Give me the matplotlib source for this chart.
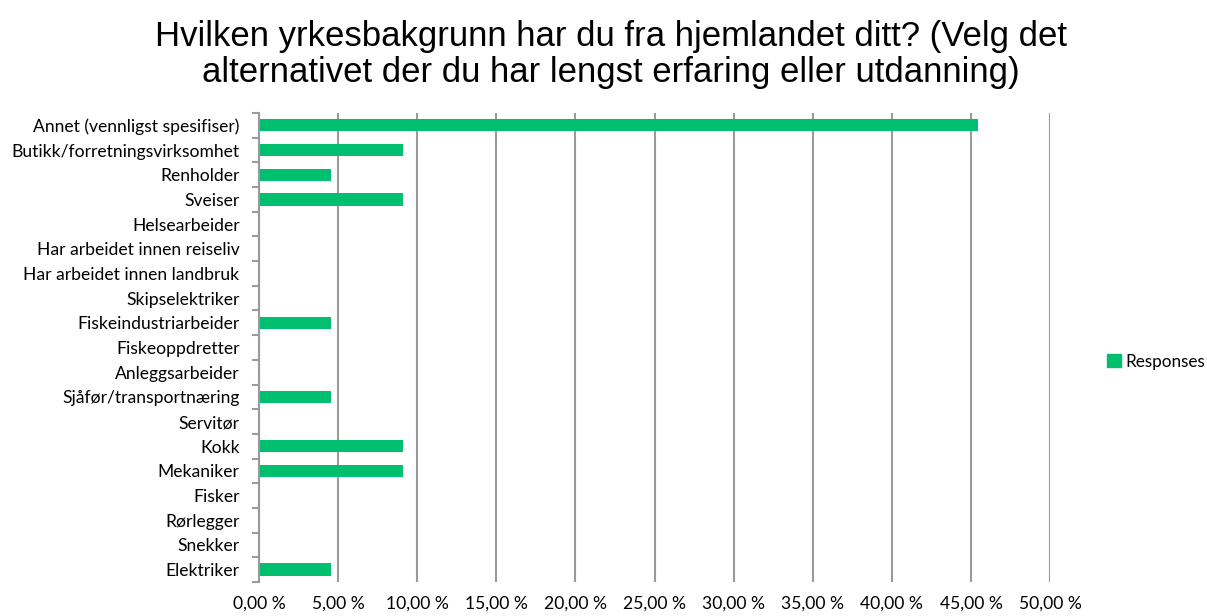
import matplotlib

matplotlib.use("Agg")
import matplotlib.pyplot as plt  # noqa: E402
from matplotlib.patches import Patch  # noqa: E402
from matplotlib.ticker import FuncFormatter, FixedLocator, NullFormatter  # noqa: E402

TITLE = ("Hvilken yrkesbakgrunn har du fra hjemlandet ditt? (Velg det\n"
         "alternativet der du har lengst erfaring eller utdanning)")

categories = [
    "Annet (vennligst spesifiser)",
    "Butikk/forretningsvirksomhet",
    "Renholder",
    "Sveiser",
    "Helsearbeider",
    "Har arbeidet innen reiseliv",
    "Har arbeidet innen landbruk",
    "Skipselektriker",
    "Fiskeindustriarbeider",
    "Fiskeoppdretter",
    "Anleggsarbeider",
    "Sjåfør/transportnæring",
    "Servitør",
    "Kokk",
    "Mekaniker",
    "Fisker",
    "Rørlegger",
    "Snekker",
    "Elektriker",
]
responses = [45.45, 9.09, 4.55, 9.09, 0, 0, 0, 0, 4.55, 0, 0, 4.55, 0, 9.09, 9.09,
             0, 0, 0, 4.55]

GREEN = "#00BF6F"
GRID = "#9a9a9a"
LABEL_FONT = ["Lato", "DejaVu Sans"]
LABEL_SIZE = 12.6

fig = plt.figure(figsize=(12.07, 6.16), dpi=100)
ax = fig.add_axes([0.2146, 0.0552, 0.6554, 0.7614])

y = list(range(len(categories)))
ax.barh(y, responses, height=0.5, color=GREEN, zorder=3)

ax.set_xlim(0, 50)
ax.set_ylim(len(categories) - 0.5, -0.5)
ax.set_xticks(range(0, 51, 5))
ax.xaxis.set_major_formatter(FuncFormatter(lambda v, _: f"{v:.2f}".replace(".", ",") + " %"))
ax.tick_params(axis="x", length=0, pad=10, labelsize=LABEL_SIZE, colors="black")
ax.grid(axis="x", color=GRID, linewidth=1.5, zorder=0)

# category labels centred, ticks on category boundaries
ax.set_yticks(y)
ax.set_yticklabels(categories)
ax.yaxis.set_minor_locator(FixedLocator([i - 0.5 for i in range(len(categories) + 1)]))
ax.yaxis.set_minor_formatter(NullFormatter())
ax.tick_params(axis="y", which="major", length=0, pad=14, labelsize=LABEL_SIZE)
ax.tick_params(axis="y", which="minor", length=5, width=1.5, color=GRID)

for lbl in ax.get_xticklabels() + ax.get_yticklabels():
    lbl.set_family(LABEL_FONT)

for side in ["top", "right", "bottom"]:
    ax.spines[side].set_visible(False)
ax.spines["left"].set_color(GRID)
ax.spines["left"].set_linewidth(1.5)
ax.spines["left"].set_zorder(4)

fig.text(0.506, 0.967, TITLE, ha="center", va="top", fontsize=25,
         family=["Liberation Sans", "DejaVu Sans"], linespacing=1.12)

fig.legend(handles=[Patch(color=GREEN, label="Responses")],
           loc="center left", bbox_to_anchor=(0.9115, 0.413), frameon=False,
           borderaxespad=0.2, borderpad=0.2,
           handlelength=0.8, handleheight=0.8, handletextpad=0.25,
           prop={"family": LABEL_FONT, "size": 12.3})

fig.savefig("out.png", dpi=100)
